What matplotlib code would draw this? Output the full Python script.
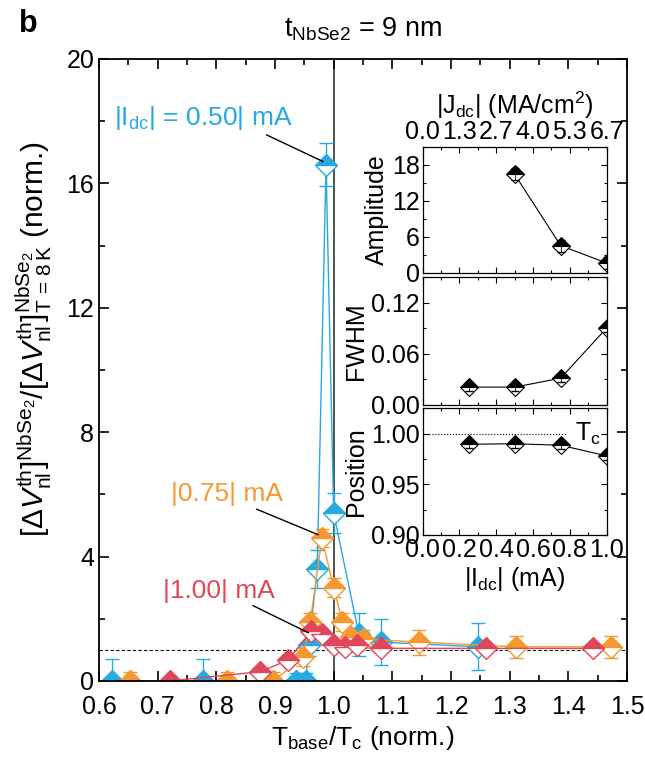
import numpy as np
import matplotlib
matplotlib.use('Agg')
import matplotlib.pyplot as plt
from matplotlib.ticker import MultipleLocator

plt.rcParams['font.family'] = ['Liberation Sans', 'DejaVu Sans']
plt.rcParams['mathtext.fontset'] = 'custom'
plt.rcParams['mathtext.rm'] = 'Liberation Sans'
plt.rcParams['mathtext.it'] = 'Liberation Sans:italic'
plt.rcParams['mathtext.bf'] = 'Liberation Sans:bold'

# main panel data (T_base/T_c, normalized signal, error)
blue_x = [0.622, 0.778, 0.935, 0.952, 0.958, 0.972, 0.987, 1.000, 1.043, 1.080, 1.246]
blue_y = [0.0, 0.0, 0.0, 0.0, 1.15, 3.6, 16.6, 5.4, 1.5, 1.25, 1.1]
blue_err = [0.7, 0.7, 0.25, 0.25, 0.35, 0.6, 0.7, 0.65, 0.7, 0.75, 0.75]

orange_x = [0.653, 0.819, 0.897, 0.948, 0.960, 0.980, 1.000, 1.015, 1.030, 1.050, 1.145, 1.310, 1.472]
orange_y = [0.0, 0.0, 0.0, 0.77, 1.9, 4.6, 3.0, 1.9, 1.4, 1.35, 1.25, 1.1, 1.1]
orange_err = [0.3, 0.3, 0.3, 0.3, 0.3, 0.3, 0.3, 0.3, 0.3, 0.3, 0.4, 0.35, 0.35]

red_x = [0.721, 0.875, 0.922, 0.962, 0.980, 1.000, 1.020, 1.040, 1.080, 1.260, 1.442]
red_y = [0.0, 0.3, 0.67, 1.6, 1.5, 1.15, 1.1, 1.15, 1.05, 1.05, 1.05]
red_err = [0.12, 0.12, 0.12, 0.15, 0.15, 0.15, 0.12, 0.12, 0.12, 0.12, 0.12]

# inset data vs |I_dc| (mA)
amp_i = [0.5, 0.75, 1.0]
amp = [16.4, 4.55, 1.65]
amp_err = [1.0, 1.0, 1.0]
cur = [0.25, 0.5, 0.75, 1.0]
fwhm = [0.021, 0.021, 0.0315, 0.0905]
fwhm_err = [0.005, 0.005, 0.005, 0.005]
pos = [0.9895, 0.990, 0.9885, 0.978]
pos_err = [0.004, 0.004, 0.004, 0.004]
inset_ticks = [0.0, 0.2, 0.4, 0.6, 0.8, 1.0]
j_labels = ['0.0', '1.3', '2.7', '4.0', '5.3', '6.7']

c_blue = '#27a9e1'
c_orange = '#f4992f'
c_red = '#e2465b'

fig = plt.figure(figsize=(6.45, 7.57), dpi=100)
ax = fig.add_axes([0.1535, 0.1004, 0.8186, 0.8217])


def series(x, y, e, c):
    ax.errorbar(x, y, yerr=e, color=c, lw=1, marker='D', ms=11, mfc=c,
                mfcalt='white', fillstyle='top', mec=c, mew=1,
                ecolor=c, elinewidth=1, capsize=5, capthick=1)


series(blue_x, blue_y, blue_err, c_blue)
series(orange_x, orange_y, orange_err, c_orange)
series(red_x, red_y, red_err, c_red)

ax.axhline(1.0, color='k', ls=(0, (3, 2)), lw=0.8, zorder=0)
ax.axvline(1.0, color='#333333', lw=1.2, zorder=0)

ax.set_xlim(0.6, 1.5)
ax.set_ylim(0, 20)
ax.set_xticks(np.arange(0.6, 1.51, 0.1))
ax.xaxis.set_minor_locator(MultipleLocator(0.05))
ax.set_yticks([0, 4, 8, 12, 16, 20])
ax.yaxis.set_minor_locator(MultipleLocator(2))
ax.tick_params(direction='in', top=True, right=True, which='both', labelsize=18)
ax.tick_params(axis='x', pad=10)
ax.tick_params(which='major', length=7, width=1.2)
ax.tick_params(which='minor', length=4, width=1.2)
for s in ax.spines.values():
    s.set_linewidth(1.3)

ax.set_xlabel(r'T$_{\rm base}$/T$_{\rm c}$ (norm.)', fontsize=19, labelpad=4)
ax.set_ylabel(r'$[\Delta V^{\rm th}_{\rm nl}]^{\rm NbSe_2}/[\Delta V^{\rm th}_{\rm nl}]^{\rm NbSe_2}_{\rm T\,=\,8\,K}$ (norm.)',
              fontsize=21.5)
ax.yaxis.set_label_coords(-0.085, 0.55)
ax.set_title(r't$_{\rm NbSe2}$ = 9 nm', fontsize=19.5, pad=16)
fig.text(0.03, 0.958, 'b', fontsize=22, fontweight='bold')

ax.annotate(r'|I$_{\rm dc}$| = 0.50| mA', xy=(0.982, 16.7), xytext=(0.778, 18.1),
            color=c_blue, fontsize=19, ha='center', va='center',
            arrowprops=dict(arrowstyle='-', color='k', lw=1,
                            shrinkA=0, shrinkB=0, relpos=(0.82, 0.0)))
ax.annotate('|0.75| mA', xy=(0.974, 4.7), xytext=(0.819, 6.0),
            color=c_orange, fontsize=19, ha='center', va='center',
            arrowprops=dict(arrowstyle='-', color='k', lw=1,
                            shrinkA=0, shrinkB=0, relpos=(0.7, 0.0)))
ax.annotate('|1.00| mA', xy=(0.957, 1.55), xytext=(0.805, 2.9),
            color=c_red, fontsize=19, ha='center', va='center',
            arrowprops=dict(arrowstyle='-', color='k', lw=1,
                            shrinkA=0, shrinkB=0, relpos=(0.75, 0.0)))

# inset panels
L, W = 0.6553, 0.2853
ax1 = fig.add_axes([L, 0.6394, W, 0.1668])
ax2 = fig.add_axes([L, 0.4650, W, 0.1687])
ax3 = fig.add_axes([L, 0.2933, W, 0.1674])

mk = dict(color='k', lw=0.8, marker='D', ms=9.3, mfc='k', mfcalt='white',
          fillstyle='top', mec='k', mew=0.8)
ax1.plot(amp_i, amp, **mk)
ax1.errorbar(amp_i, amp, yerr=amp_err, fmt='none', ecolor='k', elinewidth=0.6, capsize=3)
ax2.plot(cur, fwhm, **mk)
ax2.errorbar(cur, fwhm, yerr=fwhm_err, fmt='none', ecolor='k', elinewidth=0.6, capsize=3)
ax3.plot(cur, pos, **mk)
ax3.errorbar(cur, pos, yerr=pos_err, fmt='none', ecolor='k', elinewidth=0.6, capsize=3)
ax3.plot([0, 0.78], [1.0, 1.0], color='k', ls=':', lw=0.8)
ax3.text(0.83, 1.0, r'T$_{\rm c}$', fontsize=18, va='center', ha='left')

for a in (ax1, ax2, ax3):
    a.set_xlim(0, 1.0)
    a.set_xticks(inset_ticks)
    a.xaxis.set_minor_locator(MultipleLocator(0.1))
    a.tick_params(direction='in', top=True, right=True, which='both',
                  labelsize=18, pad=2)
    a.tick_params(which='major', length=4, width=0.8)
    a.tick_params(which='minor', length=2, width=0.8)
    for s in a.spines.values():
        s.set_linewidth(0.9)

ax1.set_ylim(0, 21)
ax1.set_yticks([0, 6, 12, 18])
ax1.yaxis.set_minor_locator(MultipleLocator(3))
ax1.set_xticklabels(j_labels)
ax1.tick_params(labeltop=True, labelbottom=False)
ax1.xaxis.set_label_position('top')
ax1.set_xlabel(r'|J$_{\rm dc}$| (MA/cm$^2$)', fontsize=18, labelpad=4)
ax1.set_ylabel('Amplitude', fontsize=18, labelpad=2)

ax2.set_ylim(0, 0.15)
ax2.set_yticks([0.0, 0.06, 0.12])
ax2.set_yticklabels(['0.00', '0.06', '0.12'])
ax2.yaxis.set_minor_locator(MultipleLocator(0.03))
ax2.tick_params(labelbottom=False)
ax2.set_ylabel('FWHM', fontsize=18, labelpad=2)

ax3.set_ylim(0.9, 1.025)
ax3.set_yticks([0.90, 0.95, 1.00])
ax3.set_yticklabels(['0.90', '0.95', '1.00'])
ax3.yaxis.set_minor_locator(MultipleLocator(0.025))
ax3.set_xticklabels(['0.0', '0.2', '0.4', '0.6', '0.8', '1.0'])
ax3.set_xlabel(r'|I$_{\rm dc}$| (mA)', fontsize=18, labelpad=2)
ax3.set_ylabel('Position', fontsize=18, labelpad=2)

fig.align_ylabels([ax1, ax2, ax3])

fig.savefig('out.png', dpi=100)
